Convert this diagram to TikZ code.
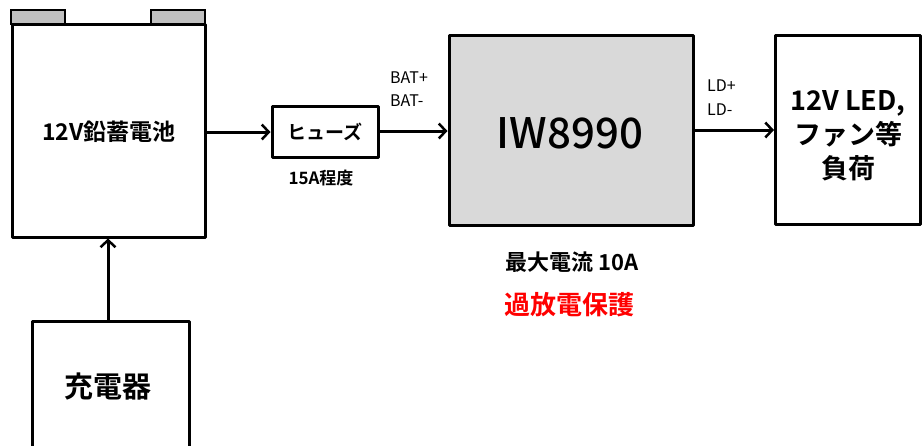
\documentclass[tikz,border=0pt]{standalone}
\usepackage{fontspec}
\setmainfont{Noto Sans CJK JP}
\newfontfamily\cjkbold{Noto Sans CJK JP Bold}
\newfontfamily\cjkmed{Noto Sans CJK JP Medium}
\usetikzlibrary{arrows.meta}
\definecolor{termgray}{HTML}{C0C0C0}
\definecolor{chipgray}{HTML}{D9D9D9}
\tikzset{
  blk/.style={draw=black, line width=3pt, fill=white, inner sep=0pt, line join=round},
  conn/.style={line width=3pt, -{Straight Barb[length=7pt,width=15pt,line width=2.5pt]}},
  lbl/.style={inner sep=0pt, font=\fontsize{16}{18}\selectfont},
  btxt/.style={inner sep=0pt, align=center},
}
\begin{document}
\begin{tikzpicture}[x=1pt,y=-1pt]
\useasboundingbox (0,0) rectangle (922,445);
% battery terminals
\path[fill=termgray, draw=black, line width=2pt] (11,24) rectangle (65,10);
\path[fill=termgray, draw=black, line width=2pt] (151,24) rectangle (205,10);
% battery
\node[blk, minimum width=193pt, minimum height=213pt] (bat) at (108.5,130.5) {};
\node[btxt, font=\cjkbold\fontsize{23}{26}\selectfont] (battxt) at (109,132) {12V鉛蓄電池};
% fuse
\node[blk, minimum width=106pt, minimum height=51pt, font=\cjkbold\fontsize{19}{22}\selectfont] (fuse) at (325,131.5) {ヒューズ};
\node[btxt, font=\cjkbold\fontsize{17}{20}\selectfont] (fusetxt) at (321,178) {15A程度};
% IW8990
\node[blk, fill=chipgray, minimum width=244pt, minimum height=190pt] (ic) at (571,130) {};
\node[btxt, font=\cjkmed\fontsize{42}{46}\selectfont] (ictxt) at (570,133) {IW8990};
\node[btxt, font=\cjkbold\fontsize{22}{25}\selectfont] (imax) at (572,262) {最大電流 10A};
\node[btxt, text=red, font=\cjkbold\fontsize{26}{30}\selectfont] (prot) at (569,305) {過放電保護};
% load
\node[blk, minimum width=145pt, minimum height=189pt] (load) at (848,129.5) {};
\node[btxt, font=\cjkbold\fontsize{27}{34}\selectfont] (loadtxt) at (848,136) {12V LED,\\ファン等\\負荷};
% charger
\node[blk, minimum width=157pt, minimum height=160pt] (chg) at (110.5,401) {};
\node[btxt, font=\cjkbold\fontsize{29}{32}\selectfont] (chgtxt) at (108,387) {充電器};
% labels
\node[lbl, anchor=west] (batp) at (390,78) {BAT+};
\node[lbl, anchor=west] (batm) at (390,101) {BAT-};
\node[lbl, anchor=west] (ldp) at (707,86) {LD+};
\node[lbl, anchor=west] (ldm) at (707,110) {LD-};
% connectors
\draw[conn] (bat.east |- 0,132) -- (fuse.west |- 0,132);
\draw[conn] (fuse.east |- 0,131) -- (ic.west |- 0,131);
\draw[conn] (ic.east |- 0,130) -- (load.west |- 0,130);
\draw[conn] (chg.north -| 108,0) -- (bat.south -| 108,0);
\end{tikzpicture}
\end{document}
